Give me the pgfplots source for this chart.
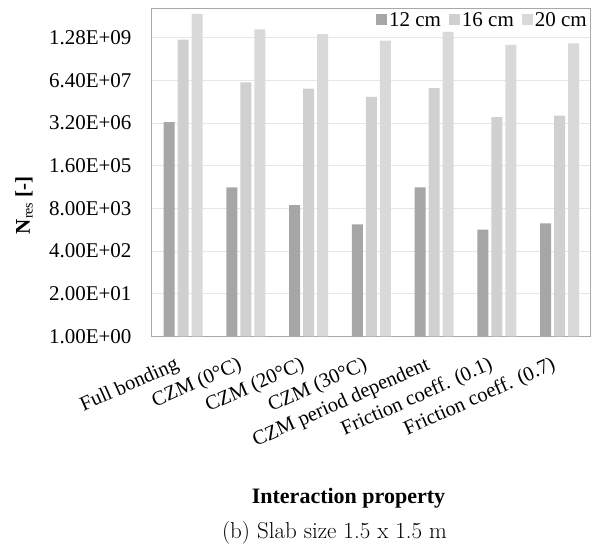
\documentclass[border=0pt]{standalone}
\usepackage{fontspec}
\setmainfont{Liberation Serif}
\newfontfamily\lmr{Latin Modern Roman}
\usepackage{pgfplots}
\pgfplotsset{compat=1.18}
\definecolor{c12}{RGB}{166,166,166}
\definecolor{c16}{RGB}{207,209,208}
\definecolor{c20}{RGB}{217,217,217}
\definecolor{framec}{RGB}{168,168,168}
\definecolor{gridc}{RGB}{230,230,230}
\begin{document}
\begin{tikzpicture}
\begin{axis}[
  at={(0,0)}, anchor=south west,
  scale only axis, width=439.3pt, height=328.2pt,
  ymode=log, log basis y=20,
  ymin=1, ymax=1.0e10,
  xmin=-0.5, xmax=6.5,
  ybar=3pt, bar width=11pt,
  xtick={0,1,2,3,4,5,6},
  xticklabels={Full bonding, CZM (0°C), CZM (20°C), CZM (30°C), CZM period dependent, Friction coeff. (0.1), Friction coeff. (0.7)},
  ytick={1,20,400,8000,160000,3200000,64000000,1280000000},
  yticklabels={1.00E+00,2.00E+01,4.00E+02,8.00E+03,1.60E+05,3.20E+06,6.40E+07,1.28E+09},
  major tick length=0pt, minor tick num=0,
  ymajorgrids, major grid style={gridc, line width=1pt},
  axis line style={framec, line width=1pt},
  yticklabel style={font=\fontsize{21}{25}\selectfont, inner sep=0pt, xshift=-20pt},
  xticklabel style={font=\fontsize{20.5}{24}\selectfont, anchor=north east, inner sep=0pt, xshift=-9pt, yshift=-19pt, rotate=24},
  ylabel={\textbf{N}\raisebox{-0.3ex}{\fontsize{14}{14}\selectfont res} \textbf{[-]}},
  ylabel style={at={(axis description cs:-0.2907,0.40)}, anchor=center, font=\fontsize{21}{25}\selectfont},
  xlabel={\textbf{Interaction property}},
  xlabel style={at={(axis description cs:0.448,-0.492)}, anchor=center, font=\fontsize{22}{26}\selectfont},
  legend columns=3,
  legend style={at={(rel axis cs:1,1)}, anchor=north east, draw=none, fill=none, inner sep=2pt,
    font=\fontsize{21}{25}\selectfont, /tikz/every even column/.append style={column sep=6pt}},
  legend image code/.code={\fill[#1] (0pt,-5pt) rectangle (11pt,6pt);},
]
\addplot[fill=c12, draw=none] coordinates {(0,3.4e6) (1,3.5e4) (2,1.0e4) (3,2.6e3) (4,3.5e4) (5,1.8e3) (6,2.8e3)};
\addplot[fill=c16, draw=none] coordinates {(0,1.12e9) (1,5.5e7) (2,3.6e7) (3,2.0e7) (4,3.7e7) (5,4.8e6) (6,5.4e6)};
\addplot[fill=c20, draw=none] coordinates {(0,6.8e9) (1,2.26e9) (2,1.63e9) (3,1.04e9) (4,1.92e9) (5,7.7e8) (6,8.5e8)};
\legend{12 cm, 16 cm, 20 cm}
\end{axis}
\node[font=\lmr\fontsize{23}{27}\selectfont] at (182.8pt,-196.5pt) {(b) Slab size 1.5 x 1.5 m};
\pgfresetboundingbox
\useasboundingbox (-151.7pt,-209.5pt) rectangle (446.3pt,336.5pt);
\end{tikzpicture}
\end{document}
